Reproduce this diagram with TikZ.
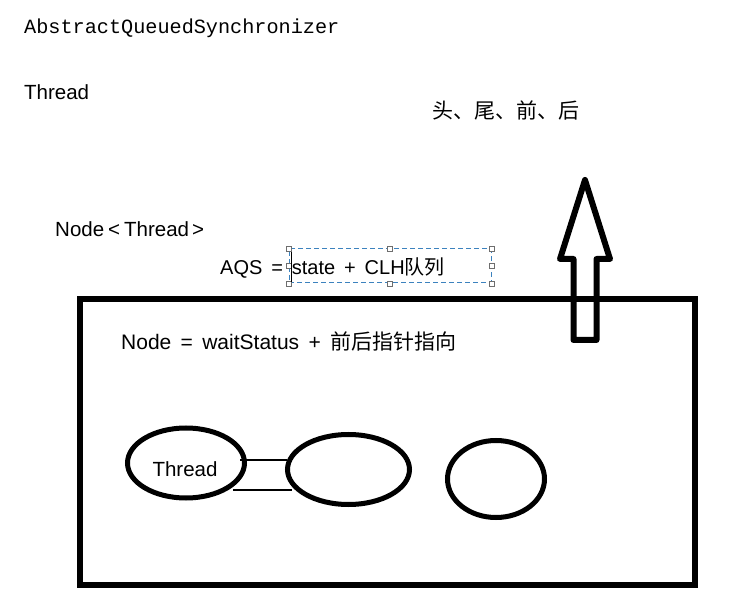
\documentclass[tikz,border=0pt]{standalone}
\usepackage{fontspec}
\setmainfont{Liberation Sans}[WordSpace=1.6]
\newfontfamily\cjk{Noto Sans CJK SC}
\newfontfamily\codefont{Liberation Mono}
\usetikzlibrary{shapes.geometric}
\definecolor{selblue}{RGB}{60,130,190}
\definecolor{handlegray}{RGB}{110,110,110}
\begin{document}
\begin{tikzpicture}[x=1pt,y=-1pt,
  txt/.style={anchor=base west, inner sep=0, font=\fontsize{20}{24}\selectfont},
  bubble/.style={draw, ellipse, line width=5pt, inner sep=0},
  handle/.style={draw=handlegray, fill=white, line width=0.8pt, minimum size=5pt, inner sep=0, rectangle},
  link/.style={line width=1.2pt}]
\useasboundingbox (0,0) rectangle (732,596);
% texts
\node[txt, font=\codefont\fontsize{20.2}{24}\selectfont] (aqsname) at (24,34) {AbstractQueuedSynchronizer};
\node[txt, font=\fontsize{20.5}{24}\selectfont] (thread) at (24,100) {Thread};
\node[txt, font=\fontsize{20.5}{24}\selectfont] (nodethread) at (55,237) {Node\kern4pt<\kern4pt Thread\kern3pt>};
\node[txt, font=\cjk\fontsize{21}{24}\selectfont] (ptrs) at (432,119) {头、尾、前、后};
\node[txt] (aqs) at (220,275) {AQS = state + CLH{\cjk 队列}};
% selection box
\node[draw=selblue, dashed, dash pattern=on 5pt off 3pt, line width=1pt, rectangle, inner sep=0,
      minimum width=202, minimum height=34] (sel) at (390,266) {};
\foreach \a in {north west, north, north east, west, east, south west, south, south east}
  \node[handle] at (sel.\a) {};
\coordinate (caretTop) at (291,252);
\coordinate (caretBot) at (291,282);
\draw[line width=1pt] (caretTop) -- (caretBot);
% queue box
\node[draw, line width=6pt, rectangle, inner sep=0, minimum width=615.5, minimum height=285.5] (queue) at (387.25,442.25) {};
\node[txt, font=\fontsize{21}{24}\selectfont] (nodedef) at (121,350) {Node = waitStatus + {\cjk 前后指针指向}};
% arrow
\draw[line width=6pt, line join=round] (585,180) -- (610,259) -- (596.5,259) -- (596.5,340)
  -- (573.5,340) -- (573.5,259) -- (560,259) -- cycle;
% nodes
\node[bubble, minimum width=117, minimum height=70] (e1) at (186,463) {};
\node[txt, anchor=base, font=\fontsize{20.5}{23}\selectfont] (t1) at (185,477) {Thread};
\node[bubble, minimum width=122, minimum height=70] (e2) at (348.5,469.5) {};
\node[bubble, minimum width=97, minimum height=77] (e3) at (496,479) {};
% links
\coordinate (l1a) at (240,460);
\coordinate (l1b) at (287,460);
\coordinate (l2a) at (233,490);
\coordinate (l2b) at (292,490);
\draw[link] (l1a) -- (l1b);
\draw[link] (l2a) -- (l2b);
\end{tikzpicture}
\end{document}
